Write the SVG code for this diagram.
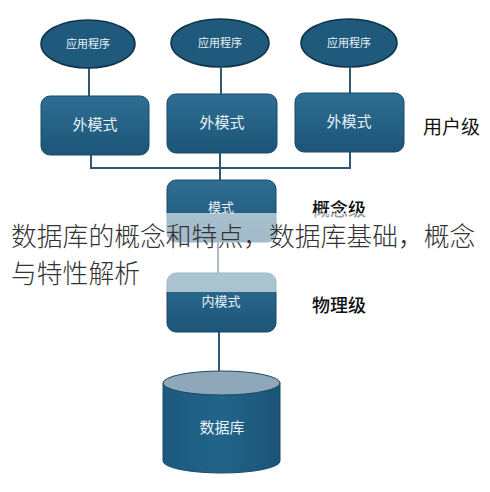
<svg xmlns="http://www.w3.org/2000/svg" width="490" height="492" viewBox="0 0 490 492">
<defs>
<linearGradient id="boxg" x1="0" y1="0" x2="0" y2="1">
<stop offset="0" stop-color="#2f6e93"/>
<stop offset="1" stop-color="#1b5577"/>
</linearGradient>
<linearGradient id="cylg" x1="0" y1="0" x2="1" y2="0">
<stop offset="0" stop-color="#1c5a7e"/>
<stop offset="0.5" stop-color="#21648a"/>
<stop offset="1" stop-color="#1a5476"/>
</linearGradient>
<style>
.box{fill:url(#boxg);stroke:#174a68;stroke-width:1}
.ell{fill:#1f5a7c;stroke:#10344a;stroke-width:1.5}
.con{stroke:#2c5a72;stroke-width:2;fill:none}
.t{font-family:"Noto Sans CJK SC","Liberation Sans",sans-serif;fill:#e8f2f8;text-anchor:middle}
.lab{font-family:"Noto Sans CJK SC","Liberation Sans",sans-serif;fill:#111;font-size:18px;font-weight:500}
.ov{font-family:"Noto Sans CJK SC","Liberation Sans",sans-serif;fill:#333;font-size:25.8px;font-weight:300}
</style>
</defs>
<rect width="490" height="492" fill="#fff"/>
<g id="connectors">
<line class="con" x1="89" y1="68" x2="89" y2="96"/>
<line class="con" x1="221" y1="68" x2="221" y2="94"/>
<line class="con" x1="350" y1="68" x2="350" y2="93"/>
<polyline class="con" points="91,155 91,168 350,168 350,152"/>
<line class="con" x1="220" y1="153" x2="220" y2="180"/>
<line class="con" x1="218" y1="242" x2="218" y2="273"/>
<line class="con" x1="219" y1="332" x2="219" y2="372"/>
</g>
<g id="app1"><ellipse class="ell" cx="88" cy="44" rx="47" ry="24"/><text class="t" x="88" y="48" font-size="11">应用程序</text></g>
<g id="app2"><ellipse class="ell" cx="220" cy="43" rx="49" ry="24"/><text class="t" x="220" y="47" font-size="11">应用程序</text></g>
<g id="app3"><ellipse class="ell" cx="349" cy="43" rx="48" ry="24"/><text class="t" x="349" y="47" font-size="11">应用程序</text></g>
<g id="ext1"><rect class="box" x="41" y="96" width="108" height="59" rx="9"/><text class="t" x="95" y="130" font-size="15">外模式</text></g>
<g id="ext2"><rect class="box" x="167" y="94" width="110" height="59" rx="9"/><text class="t" x="222" y="128" font-size="15">外模式</text></g>
<g id="ext3"><rect class="box" x="295" y="93" width="109" height="59" rx="9"/><text class="t" x="349" y="127" font-size="15">外模式</text></g>
<g id="schema"><rect class="box" x="167" y="180" width="109" height="62" rx="9"/><text class="t" x="221" y="212" font-size="13">模式</text></g>
<g id="internal"><rect class="box" x="167" y="273" width="109" height="59" rx="9"/><text class="t" x="221" y="306" font-size="13">内模式</text></g>
<g id="db">
<path d="M163,383 L163,461 A58.5,12 0 0 0 280,461 L280,383 Z" fill="url(#cylg)" stroke="#174a68" stroke-width="1"/>
<ellipse cx="221.5" cy="383" rx="58.5" ry="12" fill="#8ea8ba" stroke="#174a68" stroke-width="1"/>
<text class="t" x="222" y="433" font-size="15">数据库</text>
</g>
<g id="levels">
<text class="lab" x="423" y="134" style="font-weight:400;font-size:19px">用户级</text>
<text class="lab" x="312" y="216">概念级</text>
<text class="lab" x="312" y="312">物理级</text>
</g>
<g id="overlay">
<rect x="0" y="213" width="490" height="79" fill="#fff" fill-opacity="0.6"/>
<text class="ov" x="11" y="246">数据库的概念和特点，数据库基础，概念</text>
<text class="ov" x="11" y="283">与特性解析</text>
</g>
</svg>
